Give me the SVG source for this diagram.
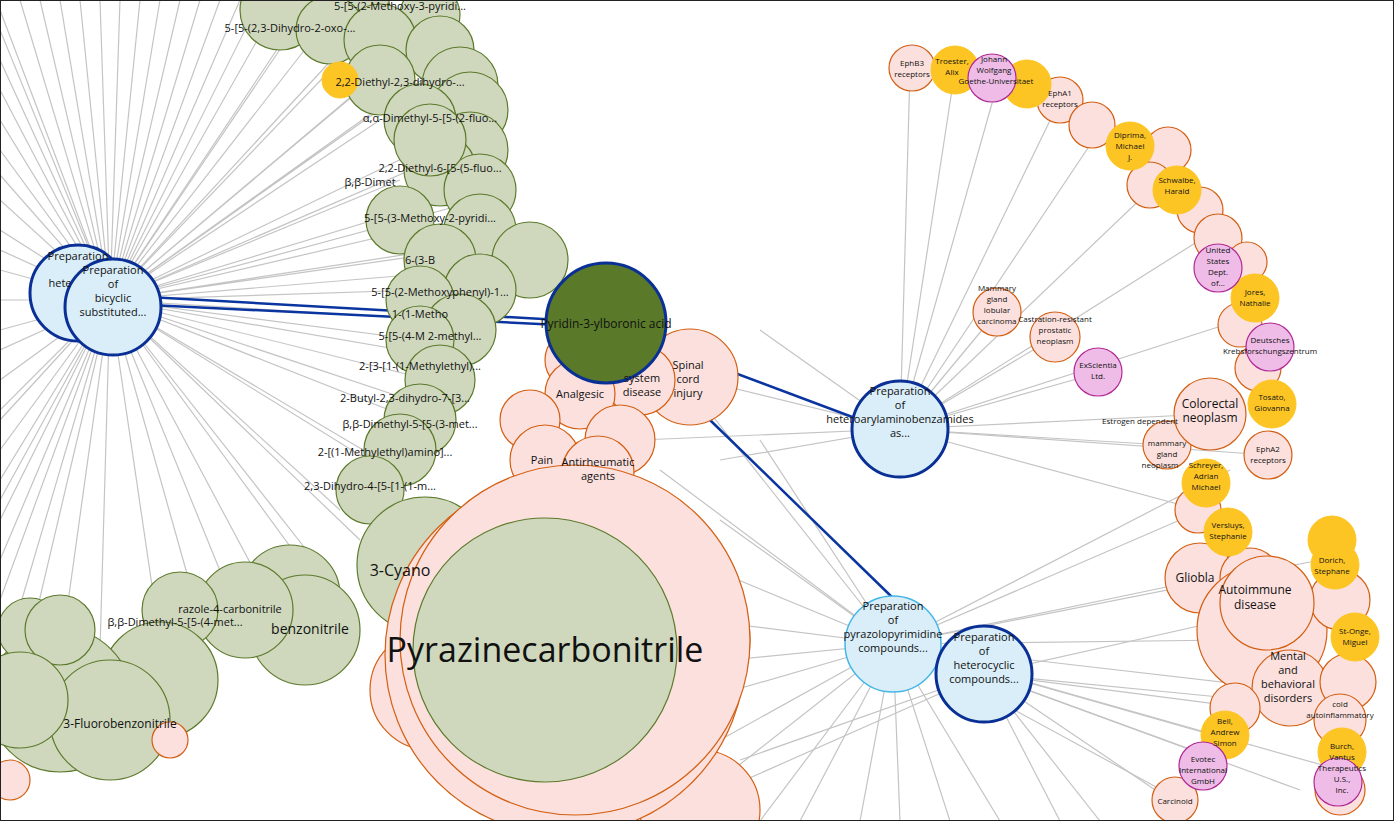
<svg xmlns="http://www.w3.org/2000/svg" width="1394" height="821" viewBox="0 0 1394 821">
<style>
.g line,.g path{stroke:#c4c4c4;stroke-width:1.2;fill:none}
.b{stroke:#0a35a0;stroke-width:2.5;fill:none}
.cp{fill:#d9eef9;stroke:#0a3096;stroke-width:3}
.cl{fill:#d9eef9;stroke:#45b6e6;stroke-width:1.5}
.gr{fill:#cfd8bd;stroke:#5d7a2c;stroke-width:1.2}
.pk{fill:#fbe0dd;stroke:#d35f12;stroke-width:1.2}
.yl{fill:#fdc524;stroke:#fdc524}
.mg{fill:#eebce6;stroke:#b02a96;stroke-width:1.2}
text{font-family:"Open Sans","Noto Sans",sans-serif;fill:#111;text-anchor:middle}
.s{font-size:11px}.xs{font-size:8px}.m{font-size:12px}
</style>
<rect width="1394" height="821" fill="#fff"/>
<g id="connectors">
<g class="g">
<line x1="110" y1="300" x2="0" y2="30"/><line x1="110" y1="300" x2="0" y2="120"/><line x1="110" y1="300" x2="0" y2="200"/><line x1="110" y1="300" x2="0" y2="450"/><line x1="110" y1="300" x2="0" y2="560"/><line x1="110" y1="300" x2="40" y2="0"/><line x1="110" y1="300" x2="120" y2="0"/><line x1="110" y1="300" x2="200" y2="0"/><line x1="110" y1="300" x2="260" y2="0"/><line x1="110" y1="300" x2="300" y2="20"/><line x1="110" y1="300" x2="340" y2="60"/><line x1="110" y1="300" x2="380" y2="120"/><line x1="110" y1="300" x2="400" y2="180"/><line x1="110" y1="300" x2="410" y2="230"/><line x1="110" y1="300" x2="420" y2="290"/><line x1="110" y1="300" x2="420" y2="340"/><line x1="110" y1="300" x2="410" y2="400"/><line x1="110" y1="300" x2="380" y2="460"/><line x1="110" y1="300" x2="340" y2="510"/><line x1="110" y1="300" x2="300" y2="560"/><line x1="110" y1="300" x2="200" y2="620"/><line x1="110" y1="300" x2="100" y2="650"/><line x1="110" y1="300" x2="30" y2="640"/><line x1="110" y1="300" x2="0" y2="330"/><line x1="110" y1="300" x2="60" y2="0"/><line x1="110" y1="300" x2="160" y2="0"/><line x1="110" y1="300" x2="0" y2="380"/><line x1="110" y1="300" x2="0" y2="270"/>
<path d="M110 300L0 10M110 300L0 60M110 300L0 90M110 300L0 150M110 300L0 175M110 300L0 230M110 300L0 250M110 300L0 300M110 300L0 350M110 300L0 410M110 300L0 480M110 300L0 520M110 300L0 600M110 300L20 0M110 300L80 0M110 300L100 0M110 300L140 0M110 300L180 0M110 300L220 0M110 300L240 0M110 300L280 0M110 300L320 30M110 300L350 40M110 300L360 90M110 300L390 100M110 300L420 150M110 300L440 200M110 300L460 250M110 300L470 270M110 300L440 320M110 300L460 360M110 300L430 380M110 300L440 430M110 300L400 480M110 300L360 540M110 300L330 580M110 300L270 600M110 300L240 620M110 300L160 640M110 300L60 660M110 300L10 640M110 300L480 140M110 300L480 200M110 300L500 240M110 300L450 60M110 300L430 30M110 300L310 0M110 300L0 500M110 300L0 420"/>
<line x1="900" y1="429" x2="910" y2="70"/><line x1="900" y1="429" x2="955" y2="70"/><line x1="900" y1="429" x2="1000" y2="75"/><line x1="900" y1="429" x2="1060" y2="100"/><line x1="900" y1="429" x2="1100" y2="130"/><line x1="900" y1="429" x2="1150" y2="190"/><line x1="900" y1="429" x2="1200" y2="240"/><line x1="900" y1="429" x2="1240" y2="320"/><line x1="900" y1="429" x2="1210" y2="414"/><line x1="900" y1="429" x2="1165" y2="445"/><line x1="900" y1="429" x2="1268" y2="455"/><line x1="900" y1="429" x2="997" y2="312"/><line x1="900" y1="429" x2="1055" y2="337"/><line x1="900" y1="429" x2="1098" y2="373"/><line x1="900" y1="429" x2="1200" y2="510"/><line x1="900" y1="429" x2="700" y2="380"/><line x1="900" y1="429" x2="640" y2="440"/>
<line x1="893" y1="644" x2="1200" y2="580"/><line x1="893" y1="644" x2="1230" y2="640"/><line x1="893" y1="644" x2="1230" y2="740"/><line x1="893" y1="644" x2="1180" y2="800"/><line x1="893" y1="644" x2="1000" y2="821"/><line x1="893" y1="644" x2="900" y2="821"/><line x1="893" y1="644" x2="800" y2="821"/><line x1="893" y1="644" x2="700" y2="700"/><line x1="893" y1="644" x2="700" y2="620"/><line x1="893" y1="644" x2="690" y2="560"/><line x1="893" y1="644" x2="660" y2="470"/><line x1="893" y1="644" x2="700" y2="400"/><line x1="893" y1="644" x2="1180" y2="520"/><line x1="893" y1="644" x2="1320" y2="560"/><line x1="893" y1="644" x2="1290" y2="690"/><line x1="893" y1="644" x2="1340" y2="770"/><line x1="893" y1="644" x2="1230" y2="470"/>
<path d="M893 644L760 821M893 644L720 780M893 644L720 740M893 644L730 660M893 644L720 520M893 644L760 440M893 644L860 821M893 644L950 821M900 429L720 460M900 429L760 330M984 674L1100 821M984 674L1250 700M984 674L1300 790"/>
<line x1="984" y1="674" x2="1220" y2="760"/><line x1="984" y1="674" x2="1170" y2="800"/><line x1="984" y1="674" x2="1060" y2="821"/><line x1="984" y1="674" x2="1270" y2="610"/><line x1="984" y1="674" x2="1340" y2="720"/><line x1="984" y1="674" x2="700" y2="800"/><line x1="984" y1="674" x2="740" y2="760"/>
</g>
<line class="b" x1="130" y1="296" x2="560" y2="320"/>
<line class="b" x1="150" y1="305" x2="560" y2="325"/>
<line class="b" x1="660" y1="345" x2="855" y2="418"/>
<line class="b" x1="710" y1="420" x2="895" y2="600"/>
</g>
<g id="nodes">
<g id="greens">
<circle class="gr" cx="280" cy="10" r="40"/><circle class="gr" cx="355" cy="10" r="35"/><circle class="gr" cx="430" cy="15" r="30"/><circle class="gr" cx="330" cy="30" r="34"/><circle class="gr" cx="380" cy="40" r="36"/><circle class="gr" cx="440" cy="50" r="34"/><circle class="gr" cx="460" cy="85" r="38"/><circle class="gr" cx="470" cy="110" r="38"/><circle class="gr" cx="380" cy="80" r="35"/><circle class="gr" cx="420" cy="120" r="36"/><circle class="gr" cx="470" cy="150" r="38"/><circle class="gr" cx="440" cy="170" r="36"/><circle class="gr" cx="480" cy="190" r="36"/><circle class="gr" cx="400" cy="220" r="34"/><circle class="gr" cx="480" cy="230" r="36"/><circle class="gr" cx="530" cy="260" r="38"/><circle class="gr" cx="440" cy="260" r="36"/><circle class="gr" cx="480" cy="290" r="36"/><circle class="gr" cx="420" cy="300" r="34"/><circle class="gr" cx="460" cy="330" r="36"/><circle class="gr" cx="420" cy="340" r="34"/><circle class="gr" cx="440" cy="380" r="35"/><circle class="gr" cx="420" cy="420" r="36"/><circle class="gr" cx="400" cy="450" r="36"/><circle class="gr" cx="370" cy="490" r="34"/><circle class="gr" cx="430" cy="140" r="36"/>
<circle class="gr" cx="425" cy="565" r="68"/><circle class="gr" cx="290" cy="595" r="50"/><circle class="gr" cx="305" cy="630" r="55"/><circle class="gr" cx="245" cy="610" r="48"/><circle class="gr" cx="180" cy="610" r="38"/><circle class="gr" cx="160" cy="680" r="58"/><circle class="gr" cx="60" cy="700" r="72"/><circle class="gr" cx="30" cy="630" r="32"/><circle class="gr" cx="60" cy="630" r="35"/><circle class="gr" cx="110" cy="720" r="60"/><circle class="gr" cx="20" cy="700" r="48"/>
</g>
<g id="pinks">
<circle class="pk" cx="575" cy="360" r="30"/><circle class="pk" cx="660" cy="380" r="30"/><circle class="pk" cx="690" cy="377" r="48"/><circle class="pk" cx="640" cy="380" r="35"/><circle class="pk" cx="580" cy="394" r="35"/><circle class="pk" cx="530" cy="420" r="30"/><circle class="pk" cx="620" cy="440" r="35"/><circle class="pk" cx="545" cy="460" r="35"/><circle class="pk" cx="598" cy="472" r="36"/>
<circle class="pk" cx="560" cy="590" r="110"/><circle class="pk" cx="640" cy="640" r="110"/><circle class="pk" cx="520" cy="700" r="110"/><circle class="pk" cx="430" cy="690" r="60"/><circle class="pk" cx="640" cy="700" r="90"/><circle class="pk" cx="700" cy="810" r="60"/><circle class="pk" cx="565" cy="655" r="180"/><circle class="pk" cx="575" cy="640" r="175"/>
<circle class="pk" cx="170" cy="740" r="18"/><circle class="pk" cx="10" cy="780" r="20"/>
<circle class="pk" cx="912" cy="68" r="23"/><circle class="pk" cx="1060" cy="100" r="23"/><circle class="pk" cx="1092" cy="125" r="23"/><circle class="pk" cx="1168" cy="150" r="23"/><circle class="pk" cx="1150" cy="185" r="23"/><circle class="pk" cx="1200" cy="210" r="23"/><circle class="pk" cx="1218" cy="238" r="24"/><circle class="pk" cx="1247" cy="262" r="20"/><circle class="pk" cx="1240" cy="325" r="22"/><circle class="pk" cx="1258" cy="368" r="23"/><circle class="pk" cx="997" cy="312" r="24"/><circle class="pk" cx="1055" cy="337" r="25"/><circle class="pk" cx="1167" cy="445" r="24"/><circle class="pk" cx="1268" cy="455" r="24"/><circle class="pk" cx="1198" cy="510" r="23"/><circle class="pk" cx="1200" cy="578" r="35"/><circle class="pk" cx="1250" cy="578" r="30"/><circle class="pk" cx="1262" cy="630" r="65"/><circle class="pk" cx="1290" cy="688" r="38"/><circle class="pk" cx="1340" cy="600" r="30"/><circle class="pk" cx="1348" cy="682" r="28"/><circle class="pk" cx="1340" cy="720" r="26"/><circle class="pk" cx="1235" cy="708" r="25"/><circle class="pk" cx="1175" cy="800" r="23"/><circle class="pk" cx="1340" cy="790" r="25"/>
</g>
<g id="yellows">
<circle class="yl" cx="340" cy="80" r="18"/><circle class="yl" cx="955" cy="70" r="24"/><circle class="yl" cx="1027" cy="84" r="24"/><circle class="yl" cx="1130" cy="146" r="24"/><circle class="yl" cx="1177" cy="190" r="24"/><circle class="yl" cx="1255" cy="298" r="24"/><circle class="yl" cx="1272" cy="404" r="24"/><circle class="yl" cx="1206" cy="483" r="24"/><circle class="yl" cx="1228" cy="532" r="24"/><circle class="yl" cx="1332" cy="540" r="24"/><circle class="yl" cx="1335" cy="565" r="24"/><circle class="yl" cx="1355" cy="637" r="24"/><circle class="yl" cx="1225" cy="735" r="24"/><circle class="yl" cx="1342" cy="752" r="24"/>
</g>
<g id="magentas">
<circle class="mg" cx="992" cy="78" r="24"/><circle class="mg" cx="1218" cy="268" r="24"/><circle class="mg" cx="1270" cy="347" r="24"/><circle class="mg" cx="1098" cy="372" r="24"/><circle class="mg" cx="1203" cy="766" r="24"/><circle class="mg" cx="1338" cy="782" r="24"/>
</g>
<g id="big-pink"><circle class="pk" cx="1267" cy="603" r="47"/><circle class="pk" cx="1210" cy="414" r="36"/></g>
<g id="pyrazine"><circle class="gr" cx="545" cy="650" r="132"/></g>
<g id="boronic"><circle cx="606" cy="323" r="60" fill="#5a7a2a" stroke="#0a3096" stroke-width="3"/></g>
<g id="p1"><circle class="cp" cx="78" cy="293" r="48"/></g>
<g id="p2"><circle class="cp" cx="113" cy="307" r="48"/></g>
<g id="p3"><circle class="cp" cx="900" cy="429" r="48"/></g>
<g id="p4"><circle class="cl" cx="893" cy="644" r="48"/></g>
<g id="p5"><circle class="cp" cx="984" cy="674" r="48"/></g>
</g>
<g id="labels">
<text class="s" x="78" y="260">Preparation</text><text class="s" x="60" y="287">hete</text>
<text class="s" x="113" y="274">Preparation</text><text class="s" x="113" y="288">of</text><text class="s" x="113" y="302">bicyclic</text><text class="s" x="113" y="316">substituted...</text>
<text class="s" x="900" y="395">Preparation</text><text class="s" x="900" y="409">of</text><text class="s" x="900" y="423">heteroarylaminobenzamides</text><text class="s" x="900" y="437">as...</text>
<text class="s" x="893" y="610">Preparation</text><text class="s" x="893" y="624">of</text><text class="s" x="893" y="638">pyrazolopyrimidine</text><text class="s" x="893" y="652">compounds...</text>
<text class="s" x="984" y="641">Preparation</text><text class="s" x="984" y="655">of</text><text class="s" x="984" y="669">heterocyclic</text><text class="s" x="984" y="683">compounds...</text>
<text class="m" x="606" y="328">Pyridin-3-ylboronic acid</text>
<text x="545" y="662" style="font-size:34px">Pyrazinecarbonitrile</text>
<text class="s" x="580" y="398">Analgesic</text><text class="s" x="642" y="382">system</text><text class="s" x="642" y="396">disease</text><text class="s" x="688" y="369">Spinal</text><text class="s" x="688" y="383">cord</text><text class="s" x="688" y="397">injury</text>
<text class="s" x="542" y="464">Pain</text><text class="s" x="598" y="466">Antirheumatic</text><text class="s" x="598" y="480">agents</text>
<text style="font-size:16px" x="400" y="576">3-Cyano</text><text style="font-size:14px" x="310" y="634">benzonitrile</text><text class="m" x="120" y="728">3-Fluorobenzonitrile</text><text class="s" x="230" y="613">razole-4-carbonitrile</text><text class="s" x="175" y="626">β,β-Dimethyl-5-[5-(4-met...</text>
<text class="s" x="400" y="10">5-[5-(2-Methoxy-3-pyridi...</text><text class="s" x="290" y="32">5-[5-(2,3-Dihydro-2-oxo-...</text><text class="s" x="400" y="86">2,2-Diethyl-2,3-dihydro-...</text><text class="s" x="430" y="122">α,α-Dimethyl-5-[5-(2-fluo...</text><text class="s" x="440" y="172">2,2-Diethyl-6-[5-(5-fluo...</text><text class="s" x="370" y="186">β,β-Dimet</text><text class="s" x="430" y="222">5-[5-(3-Methoxy-2-pyridi...</text><text class="s" x="420" y="264">6-(3-B</text><text class="s" x="440" y="296">5-[5-(2-Methoxyphenyl)-1...</text><text class="s" x="420" y="318">1-(1-Metho</text><text class="s" x="430" y="340">5-[5-(4-M       2-methyl...</text><text class="s" x="420" y="370">2-[3-[1-(1-Methylethyl)...</text><text class="s" x="405" y="402">2-Butyl-2,3-dihydro-7-[3...</text><text class="s" x="410" y="428">β,β-Dimethyl-5-[5-(3-met...</text><text class="s" x="385" y="456">2-[(1-Methylethyl)amino]...</text><text class="s" x="370" y="490">2,3-Dihydro-4-[5-[1-(1-m...</text>
<text class="m" x="1210" y="408">Colorectal</text><text class="m" x="1210" y="422">neoplasm</text><text class="m" x="1255" y="594">Autoimmune</text><text class="m" x="1255" y="609">disease</text><text class="s" x="1288" y="660">Mental</text><text class="s" x="1288" y="674">and</text><text class="s" x="1288" y="688">behavioral</text><text class="s" x="1288" y="702">disorders</text>
<text class="xs" x="912" y="66">EphB3</text><text class="xs" x="912" y="77">receptors</text><text class="xs" x="952" y="64">Troester,</text><text class="xs" x="952" y="75">Alix</text><text class="xs" x="994" y="62">Johann</text><text class="xs" x="994" y="73">Wolfgang</text><text class="xs" x="996" y="84">Goethe-Universitaet</text><text class="xs" x="1060" y="96">EphA1</text><text class="xs" x="1060" y="107">receptors</text><text class="xs" x="1130" y="138">Diprima,</text><text class="xs" x="1130" y="149">Michael</text><text class="xs" x="1130" y="160">J.</text><text class="xs" x="1177" y="183">Schwalbe,</text><text class="xs" x="1177" y="194">Harald</text><text class="xs" x="1218" y="253">United</text><text class="xs" x="1218" y="264">States</text><text class="xs" x="1218" y="275">Dept.</text><text class="xs" x="1218" y="286">of...</text><text class="xs" x="1255" y="295">Jores,</text><text class="xs" x="1255" y="306">Nathalie</text><text class="xs" x="1270" y="343">Deutsches</text><text class="xs" x="1270" y="354">Krebsforschungszentrum</text><text class="xs" x="1098" y="368">ExScientia</text><text class="xs" x="1098" y="379">Ltd.</text><text class="xs" x="1272" y="400">Tosato,</text><text class="xs" x="1272" y="411">Giovanna</text><text class="xs" x="1268" y="452">EphA2</text><text class="xs" x="1268" y="463">receptors</text><text class="xs" x="997" y="291">Mammary</text><text class="xs" x="997" y="302">gland</text><text class="xs" x="997" y="313">lobular</text><text class="xs" x="997" y="324">carcinoma</text><text class="xs" x="1055" y="322">Castration-resistant</text><text class="xs" x="1055" y="333">prostatic</text><text class="xs" x="1055" y="344">neoplasm</text><text class="xs" x="1140" y="424">Estrogen dependent</text><text class="xs" x="1167" y="446">mammary</text><text class="xs" x="1167" y="457">gland</text><text class="xs" x="1160" y="468">neoplasm</text><text class="xs" x="1206" y="468">Schreyer,</text><text class="xs" x="1206" y="479">Adrian</text><text class="xs" x="1206" y="490">Michael</text><text class="xs" x="1228" y="528">Versluys,</text><text class="xs" x="1228" y="539">Stephanie</text><text class="xs" x="1332" y="563">Dorich,</text><text class="xs" x="1332" y="574">Stephane</text><text class="xs" x="1355" y="634">St-Onge,</text><text class="xs" x="1355" y="645">Miguel</text><text class="xs" x="1225" y="724">Bell,</text><text class="xs" x="1225" y="735">Andrew</text><text class="xs" x="1225" y="746">Simon</text><text class="xs" x="1203" y="762">Evotec</text><text class="xs" x="1203" y="773">International</text><text class="xs" x="1203" y="784">GmbH</text><text class="xs" x="1342" y="749">Burch,</text><text class="xs" x="1342" y="760">Vantus</text><text class="xs" x="1342" y="771">Therapeutics</text><text class="xs" x="1342" y="782">U.S.,</text><text class="xs" x="1342" y="793">Inc.</text><text class="xs" x="1175" y="804">Carcinoid</text><text class="xs" x="1340" y="707">cold</text><text class="xs" x="1340" y="718">autoinflammatory</text>
<text class="m" x="1195" y="582">Gliobla</text>
</g>
<rect x="0.5" y="0.5" width="1393" height="820" fill="none" stroke="#222"/>
</svg>
